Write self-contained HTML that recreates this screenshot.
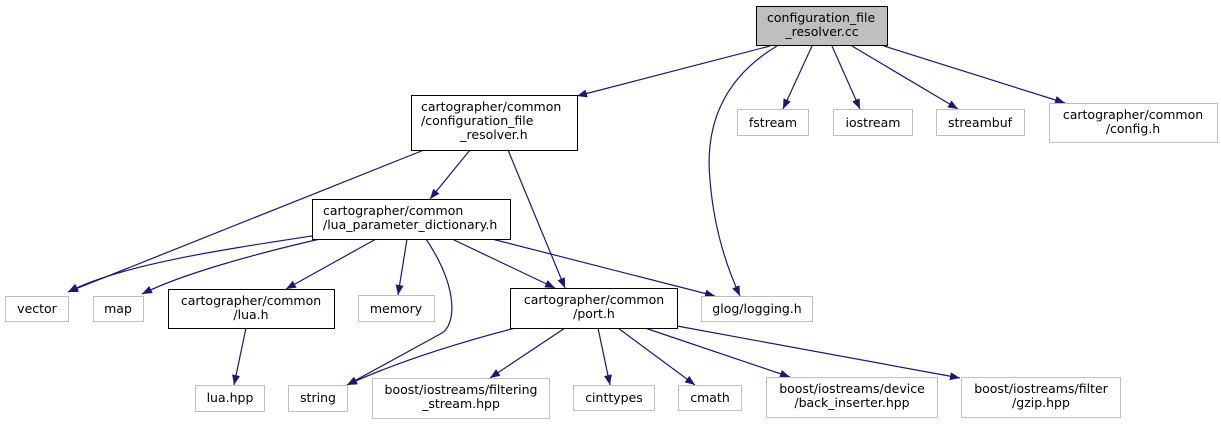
<!DOCTYPE html>
<html><head><meta charset="utf-8"><style>
html,body{margin:0;padding:0;background:#fff;}
svg{display:block;}
text{font-family:"DejaVu Sans","Liberation Sans",sans-serif;font-size:12.5px;fill:#000;}
</style></head><body>
<svg width="1221" height="424" viewBox="0 0 1221 424" xmlns="http://www.w3.org/2000/svg">
<defs>
<marker id="a" viewBox="0 0 10 8" refX="10" refY="4" markerWidth="10" markerHeight="8" markerUnits="userSpaceOnUse" orient="auto">
<path d="M0,0 L10,4 L0,8 z" fill="#191970"/>
</marker>
</defs>
<g fill="none" stroke="#191970" stroke-width="1.2" marker-end="url(#a)">
<path d="M770,46 L577,96"/>
<path d="M777,46 C720,80 705,130 710,180 C714,230 728,270 740,296"/>
<path d="M812,46 L783,109"/>
<path d="M832,46 L860,109"/>
<path d="M852,46 L958,109"/>
<path d="M884,46 L1065,103"/>
<path d="M424,150 L68,292"/>
<path d="M470,150 L430,199"/>
<path d="M508,150 L565,288"/>
<path d="M312,236 C220,250 120,265 68,292"/>
<path d="M320,239 C250,255 180,275 142,294"/>
<path d="M376,239 L286,289"/>
<path d="M407,239 L398,295"/>
<path d="M426,239 C460,290 455,325 442,333 L347,385"/>
<path d="M452,239 L555,288"/>
<path d="M492,239 L715,296"/>
<path d="M515,328 C450,345 390,365 347,385"/>
<path d="M565,328 L490,378"/>
<path d="M598,328 L610,385"/>
<path d="M618,328 L695,385"/>
<path d="M645,328 L790,377"/>
<path d="M677,326 L960,378"/>
<path d="M246,328 L234,385"/>
</g>
<g stroke-width="1">
<rect x="756.5" y="6.5" width="131" height="39" fill="#bfbfbf" stroke="#000"/>
<rect x="411.5" y="95.5" width="166" height="55" fill="#fff" stroke="#000"/>
<rect x="737.5" y="109.5" width="71" height="26" fill="#fff" stroke="#bfbfbf"/>
<rect x="833.5" y="109.5" width="79" height="26" fill="#fff" stroke="#bfbfbf"/>
<rect x="936.5" y="109.5" width="88" height="26" fill="#fff" stroke="#bfbfbf"/>
<rect x="1049.5" y="103.5" width="168" height="39" fill="#fff" stroke="#bfbfbf"/>
<rect x="312.5" y="199.5" width="198" height="40" fill="#fff" stroke="#000"/>
<rect x="5.5" y="296.5" width="63" height="25" fill="#fff" stroke="#bfbfbf"/>
<rect x="93.5" y="296.5" width="50" height="25" fill="#fff" stroke="#bfbfbf"/>
<rect x="168.5" y="289.5" width="166" height="39" fill="#fff" stroke="#000"/>
<rect x="358.5" y="295.5" width="76" height="26" fill="#fff" stroke="#bfbfbf"/>
<rect x="510.5" y="288.5" width="167" height="40" fill="#fff" stroke="#000"/>
<rect x="701.5" y="296.5" width="111" height="25" fill="#fff" stroke="#bfbfbf"/>
<rect x="195.5" y="385.5" width="69" height="26" fill="#fff" stroke="#bfbfbf"/>
<rect x="288.5" y="385.5" width="59" height="26" fill="#fff" stroke="#bfbfbf"/>
<rect x="372.5" y="378.5" width="177" height="40" fill="#fff" stroke="#bfbfbf"/>
<rect x="573.5" y="385.5" width="81" height="25" fill="#fff" stroke="#bfbfbf"/>
<rect x="678.5" y="385.5" width="63" height="25" fill="#fff" stroke="#bfbfbf"/>
<rect x="766.5" y="377.5" width="171" height="40" fill="#fff" stroke="#bfbfbf"/>
<rect x="961.5" y="377.5" width="159" height="40" fill="#fff" stroke="#bfbfbf"/>
</g>
<g>
<text x="767" y="22">configuration_file</text>
<text x="822" y="36" text-anchor="middle">_resolver.cc</text>
<text x="421" y="111">cartographer/common</text>
<text x="421" y="125">/configuration_file</text>
<text x="494" y="139" text-anchor="middle">_resolver.h</text>
<text x="773" y="127" text-anchor="middle">fstream</text>
<text x="873" y="127" text-anchor="middle">iostream</text>
<text x="980" y="127" text-anchor="middle">streambuf</text>
<text x="1133" y="119" text-anchor="middle">cartographer/common</text>
<text x="1133" y="133" text-anchor="middle">/config.h</text>
<text x="323" y="215">cartographer/common</text>
<text x="323" y="229">/lua_parameter_dictionary.h</text>
<text x="37" y="313" text-anchor="middle">vector</text>
<text x="118" y="313" text-anchor="middle">map</text>
<text x="251" y="305" text-anchor="middle">cartographer/common</text>
<text x="251" y="319" text-anchor="middle">/lua.h</text>
<text x="396" y="313" text-anchor="middle">memory</text>
<text x="594" y="304" text-anchor="middle">cartographer/common</text>
<text x="594" y="318" text-anchor="middle">/port.h</text>
<text x="757" y="313" text-anchor="middle">glog/logging.h</text>
<text x="230" y="402" text-anchor="middle">lua.hpp</text>
<text x="318" y="402" text-anchor="middle">string</text>
<text x="461" y="394" text-anchor="middle">boost/iostreams/filtering</text>
<text x="461" y="408" text-anchor="middle">_stream.hpp</text>
<text x="614" y="402" text-anchor="middle">cinttypes</text>
<text x="710" y="402" text-anchor="middle">cmath</text>
<text x="852" y="393" text-anchor="middle">boost/iostreams/device</text>
<text x="852" y="407" text-anchor="middle">/back_inserter.hpp</text>
<text x="1041" y="393" text-anchor="middle">boost/iostreams/filter</text>
<text x="1041" y="407" text-anchor="middle">/gzip.hpp</text>
</g>
</svg>
</body></html>
